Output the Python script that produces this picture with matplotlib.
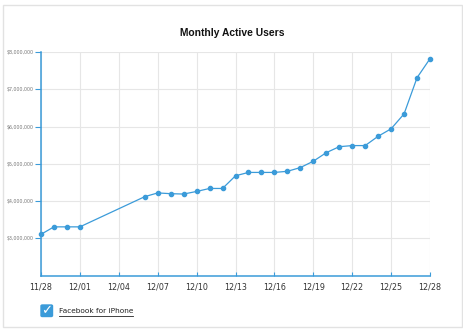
import matplotlib
matplotlib.use("Agg")
import matplotlib.pyplot as plt
import matplotlib.dates as mdates
from matplotlib.patches import Rectangle, FancyBboxPatch
from matplotlib.lines import Line2D
from matplotlib.ticker import FuncFormatter
import pandas as pd

title = "Monthly Active Users"
series_name = "Facebook for iPhone"
dates = ["2008-11-28", "2008-11-29", "2008-11-30", "2008-12-01",
         "2008-12-06", "2008-12-07", "2008-12-08", "2008-12-09", "2008-12-10",
         "2008-12-11", "2008-12-12", "2008-12-13", "2008-12-14", "2008-12-15",
         "2008-12-16", "2008-12-17", "2008-12-18", "2008-12-19", "2008-12-20",
         "2008-12-21", "2008-12-22", "2008-12-23", "2008-12-24", "2008-12-25",
         "2008-12-26", "2008-12-27", "2008-12-28"]
users = [3.11e6, 3.31e6, 3.31e6, 3.31e6,
         4.12e6, 4.22e6, 4.20e6, 4.19e6, 4.26e6,
         4.34e6, 4.34e6, 4.68e6, 4.77e6, 4.77e6,
         4.77e6, 4.80e6, 4.90e6, 5.07e6, 5.30e6,
         5.46e6, 5.49e6, 5.49e6, 5.74e6, 5.94e6,
         6.34e6, 7.31e6, 7.82e6]
y_ticks = [3e6, 4e6, 5e6, 6e6, 7e6, 8e6]
y_min, y_max = 2e6, 8e6
x_start, x_end = "2008-11-28", "2008-12-28"

blue = "#3b9bd9"
grid_c = "#e6e6e6"

x = pd.to_datetime(dates)
fig = plt.figure(figsize=(4.64, 3.30), dpi=100)
fig.patch.set_facecolor("white")
fig.patches.append(Rectangle((3/464, 3/330), 459/464, 322/330, transform=fig.transFigure,
                             fill=False, edgecolor="#e2e2e2", linewidth=1.0))

ax = fig.add_axes([41/464, 1 - 275.7/330, (430 - 41)/464, (275.7 - 52)/330])
ax.plot(x, users, color=blue, linewidth=0.9, marker="o", markersize=3.0,
        markerfacecolor=blue, markeredgecolor=blue, zorder=3, clip_on=False)

ax.set_xlim(pd.Timestamp(x_start), pd.Timestamp(x_end))
ax.set_ylim(y_min, y_max)
ticks = pd.date_range(x_start, x_end, freq="3D")
ax.set_xticks(ticks)
ax.xaxis.set_major_formatter(mdates.DateFormatter("%m/%d"))
ax.set_yticks(y_ticks)
ax.yaxis.set_major_formatter(FuncFormatter(lambda v, p: "${:,.0f}".format(v)))

ax.grid(True, color=grid_c, linewidth=0.8)
ax.set_axisbelow(True)
for s in ["top", "right"]:
    ax.spines[s].set_visible(False)
for s in ["left", "bottom"]:
    ax.spines[s].set_color(blue)
    ax.spines[s].set_linewidth(1.1)

ax.tick_params(axis="y", direction="out", length=4.3, width=0.8, color=blue,
               labelsize=3.4, labelcolor="#777777", pad=0.8)
ax.tick_params(axis="x", direction="in", length=3, width=0.8, color=blue,
               labelsize=5.8, labelcolor="#333333", pad=5)

fig.text(0.5, 1 - 33/330, title, ha="center", va="center", fontsize=7.4,
         fontweight="bold", color="#111111", family="Liberation Sans")

# legend checkbox
fig.patches.append(FancyBboxPatch((41/464, 1 - 316.5/330), 11.5/464, 11.5/330,
                                  boxstyle="round,pad=0,rounding_size=0.003",
                                  transform=fig.transFigure, facecolor=blue,
                                  edgecolor=blue))
fig.text(47/464, 1 - 310.5/330, "\u2713", ha="center", va="center", fontsize=9.5,
         color="white")
fig.text(59/464, 1 - 311/330, series_name, ha="left", va="center",
         fontsize=5.3, color="#222222")
fig.lines.append(Line2D([59/464, 133/464], [1 - 315.5/330, 1 - 315.5/330],
                        transform=fig.transFigure, color="#222222", linewidth=0.6))

fig.savefig("out.png", dpi=100, facecolor="white")
